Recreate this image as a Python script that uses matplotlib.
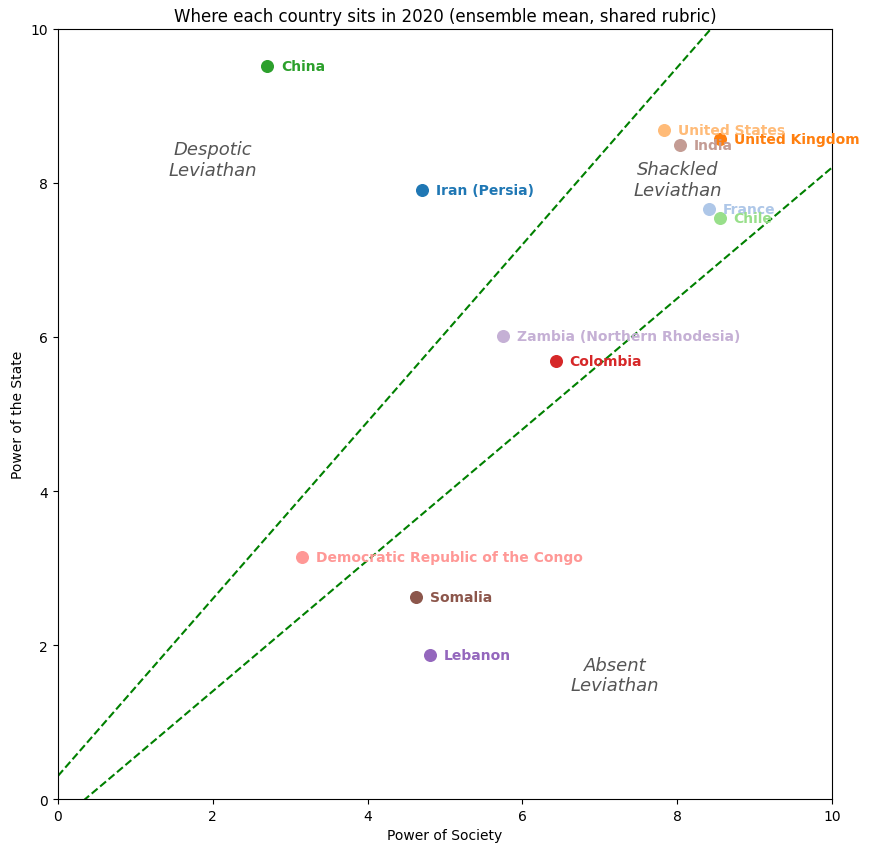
import matplotlib
matplotlib.use("Agg")
import matplotlib.pyplot as plt
import numpy as np

countries = ["Iran (Persia)", "France", "United Kingdom", "United States", "China", "Chile",
             "Colombia", "Democratic Republic of the Congo", "Lebanon",
             "Zambia (Northern Rhodesia)", "Somalia", "India"]
society = [4.70, 8.41, 8.55, 7.83, 2.70, 8.55, 6.43, 3.15, 4.81, 5.75, 4.63, 8.04]
state = [7.91, 7.66, 8.57, 8.69, 9.52, 7.55, 5.69, 3.14, 1.87, 6.01, 2.62, 8.49]

upper_slope, upper_icpt = 1.15, 0.30
lower_slope, lower_icpt = 0.85, -0.30

regions = ["Despotic\nLeviathan", "Shackled\nLeviathan", "Absent\nLeviathan"]
region_x = [2.0, 8.01, 7.2]
region_y = [8.31, 8.05, 1.61]

fig = plt.figure(figsize=(8.73, 8.54), dpi=100)
ax = fig.add_axes([0.0664, 0.0632, 0.8866, 0.9017])
cmap = plt.get_cmap("tab20")

xs = np.linspace(0, 10, 200)
ax.plot(xs, upper_slope * xs + upper_icpt, "--", color="green", lw=1.5)
ax.plot(xs, lower_slope * xs + lower_icpt, "--", color="green", lw=1.5)

for i, (c, sx, sy) in enumerate(zip(countries, society, state)):
    col = cmap(i)
    ax.scatter(sx, sy, s=70, color=col, zorder=3)
    ax.annotate(c, (sx, sy), xytext=(10, 0), textcoords="offset points",
                va="center", ha="left", fontsize=10, fontweight="bold", color=col, zorder=4)

for r, rx, ry in zip(regions, region_x, region_y):
    ax.text(rx, ry, r, ha="center", va="center", fontsize=13, style="italic", color="#555555")

ax.set_xlim(0, 10)
ax.set_ylim(0, 10)
ax.set_xlabel("Power of Society")
ax.set_ylabel("Power of the State")
ax.set_title("Where each country sits in 2020 (ensemble mean, shared rubric)", fontsize=12)
fig.savefig("out.png", dpi=100)
